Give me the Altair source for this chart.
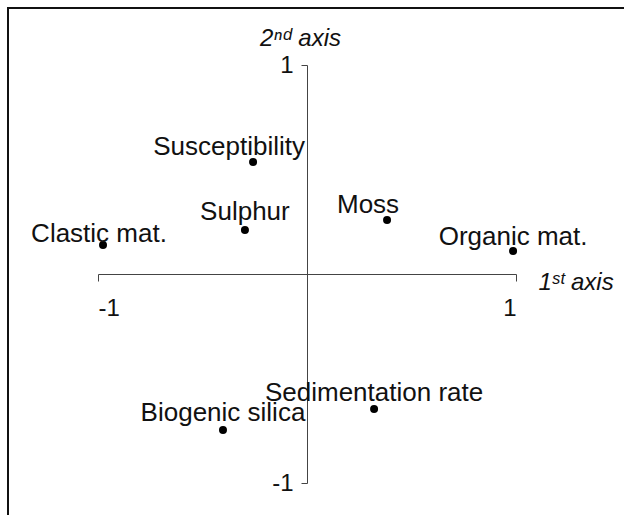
import altair as alt
import pandas as pd

# Variables (loadings on 1st and 2nd axis)
names = ["Clastic mat.", "Sulphur", "Susceptibility", "Moss", "Organic mat.",
         "Sedimentation rate", "Biogenic silica"]
axis1 = [-0.976, -0.297, -0.258, 0.383, 0.986, 0.321, -0.402]
axis2 = [0.139, 0.211, 0.536, 0.258, 0.110, -0.646, -0.746]
tick_values = [-1, 1]

df = pd.DataFrame({"name": names, "a1": axis1, "a2": axis2})

W = 418
H = 418
FONT = "Liberation Sans"
FS = 26
TFS = 24

xscale = alt.Scale(domain=[-1, 1], nice=False, zero=False)
yscale = alt.Scale(domain=[-1, 1], nice=False, zero=False)

label_expr = "datum.value < 0 ? '-' + format(-datum.value, 'd') : format(datum.value, 'd')"

xaxis = alt.Axis(values=tick_values, offset=-H / 2, grid=False, tickSize=7,
                 labelPadding=15, labelFontSize=FS - 2, labelFont=FONT, labelColor="#111",
                 labelExpr=label_expr, labelAngle=0,
                 title="1ˢᵗ axis", titleFontStyle="italic", titleFontWeight="normal",
                 titleFont=FONT, titleFontSize=TFS, titleColor="#111",
                 titleAlign="left", titleBaseline="middle", titleX=W + 22, titleY=8,
                 domainColor="#444", tickColor="#444")
yaxis = alt.Axis(values=tick_values, offset=-W / 2, grid=False, tickSize=6,
                 labelPadding=8, labelFontSize=FS - 2, labelFont=FONT, labelColor="#111",
                 labelExpr=label_expr,
                 title="2ⁿᵈ axis", titleFontStyle="italic", titleFontWeight="normal",
                 titleFont=FONT, titleFontSize=TFS, titleColor="#111", titleAngle=0,
                 titleAlign="center", titleBaseline="alphabetic", titleX=-7, titleY=-20,
                 domainColor="#444", tickColor="#444")

base = alt.Chart(df)

points = base.mark_circle(size=64, color="black", opacity=1).encode(
    x=alt.X("a1:Q", scale=xscale, axis=xaxis),
    y=alt.Y("a2:Q", scale=yscale, axis=yaxis),
)

# label offsets (pixels) relative to each dot
offsets = {
    "Clastic mat.": (-4, -3),
    "Sulphur": (0, -10),
    "Susceptibility": (-24, -7),
    "Moss": (-19, -7),
    "Organic mat.": (0, -6),
    "Sedimentation rate": (0, -8),
    "Biogenic silica": (0, -9),
}

label_layers = []
for n, (dx, dy) in offsets.items():
    label_layers.append(
        base.transform_filter(alt.datum.name == n).mark_text(
            align="center", baseline="alphabetic", dx=dx, dy=dy,
            font=FONT, fontSize=FS, color="#111"
        ).encode(
            x=alt.X("a1:Q", scale=xscale),
            y=alt.Y("a2:Q", scale=yscale),
            text="name:N",
        )
    )

frame = alt.Chart(pd.DataFrame({"k": [0]})).mark_rect(
    fill=None, stroke="#111", strokeWidth=2
).encode(
    x=alt.value(-90), x2=alt.value(W + 300),
    y=alt.value(-57), y2=alt.value(H + 300),
)

chart = alt.layer(frame, points, *label_layers).properties(
    width=W, height=H,
    autosize=alt.AutoSizeParams(type="none"),
    padding={"left": 98, "top": 65, "right": 624 - 98 - W, "bottom": 515 - 65 - H},
    background="white",
).configure_view(stroke=None)

chart.save("out.html", embed_options={"renderer": "svg", "actions": False})
